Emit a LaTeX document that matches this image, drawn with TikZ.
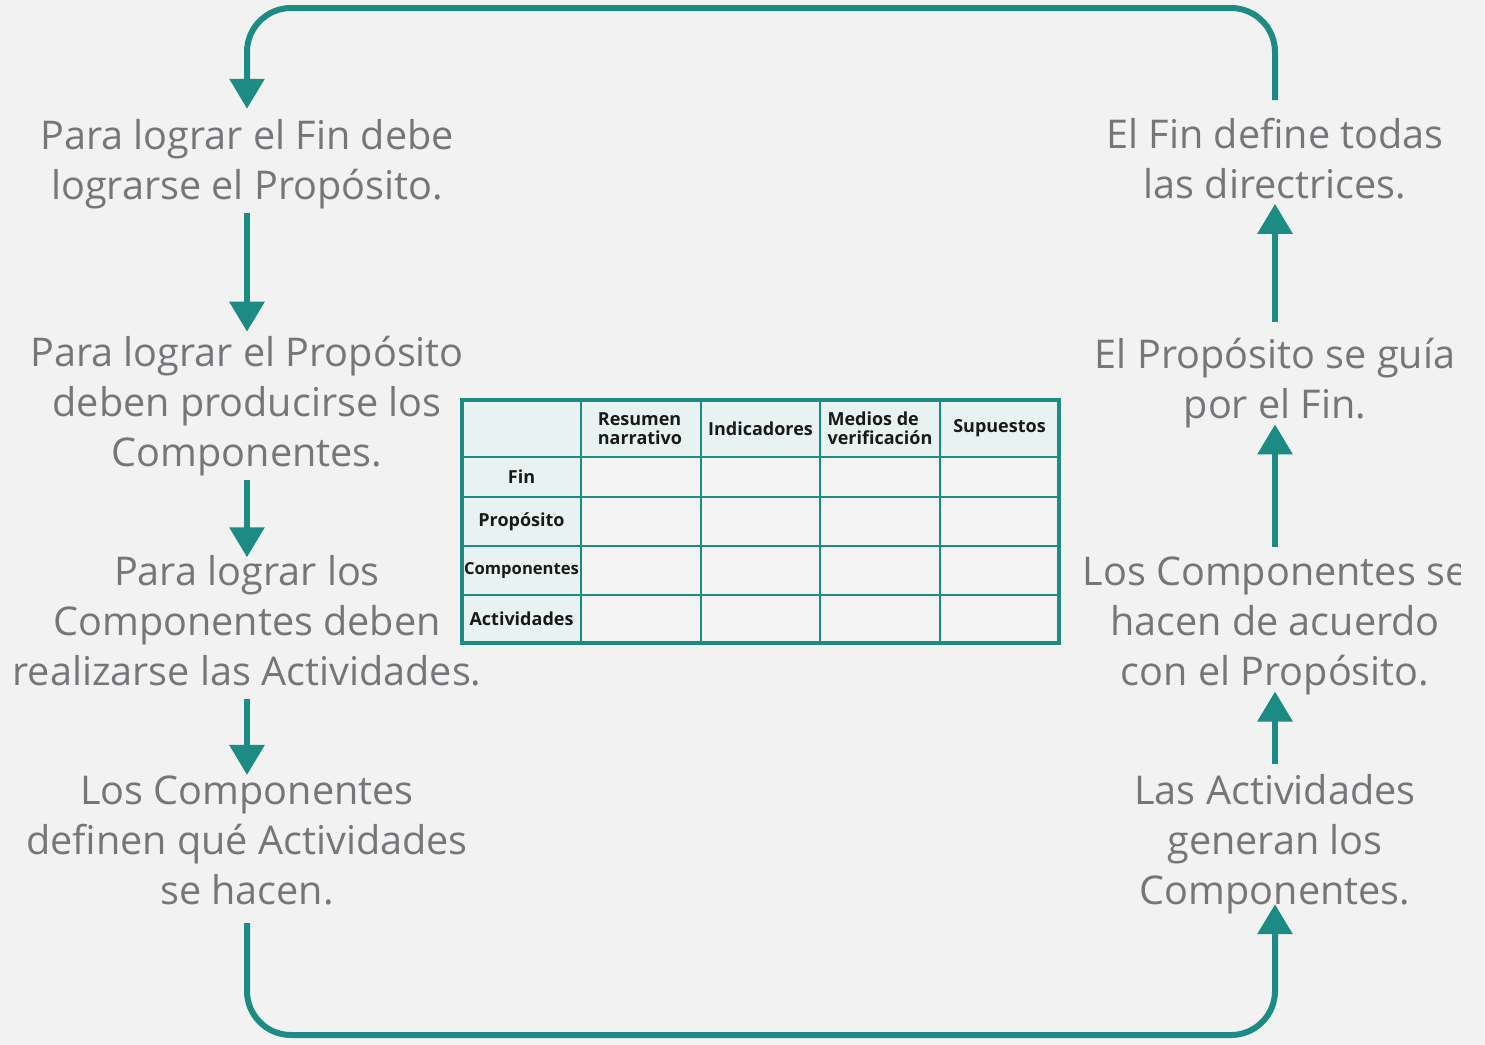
\documentclass[tikz,border=0pt]{standalone}
\usepackage{fontspec}
\setmainfont{Open Sans}
\usetikzlibrary{arrows.meta}
\definecolor{fondo}{RGB}{242,242,242}
\definecolor{verdeazul}{RGB}{27,139,132}
\definecolor{gristexto}{RGB}{118,118,122}
\definecolor{cabecera}{RGB}{232,243,241}
\definecolor{cuerpo}{RGB}{243,243,243}
\definecolor{negrotabla}{RGB}{25,25,25}
\tikzset{
  paso/.style={align=center, text=gristexto, font=\fontsize{19.8}{25}\selectfont, inner sep=2pt},
  flujo/.style={->, draw=verdeazul, line width=3pt},
  celda/.style={align=left, text=negrotabla, font=\fontsize{9}{9.5}\selectfont\bfseries, inner sep=0pt}
}
\begin{document}
\begin{tikzpicture}[x=0.5pt,y=-0.5pt,>={Triangle[width=17pt,length=15pt]}]
\fill[fondo] (0,0) rectangle (1485,1045);
\useasboundingbox (0,0) rectangle (1485,1045);
% columna izquierda
\node[paso] (fin) at (247,164) {Para lograr el Fin debe\\lograrse el Propósito.};
\node[paso] (proposito) at (247,406) {Para lograr el Propósito\\deben producirse los\\Componentes.};
\node[paso] (componentes) at (247,621) {Para lograr los\\Componentes deben\\realizarse las Actividades.};
\node[paso] (actividades) at (247,840) {Los Componentes\\definen qué Actividades\\se hacen.};
% columna derecha
\node[paso] (finB) at (1275,159) {El Fin define todas\\las directrices.};
\node[paso] (propositoB) at (1275,383) {El Propósito se guía\\por el Fin.};
\begin{scope}
\clip (0,0) rectangle (1460,1045);
\node[paso] (componentesB) at (1275,626) {Los Componentes se\\hacen de acuerdo\\con el Propósito.};
\end{scope}
\node[paso] (actividadesB) at (1275,844) {Las Actividades\\generan los\\Componentes.};
% flechas
\draw[flujo] (fin) -- (proposito);
\draw[flujo] (proposito) -- ([yshift=-3pt]componentes.north);
\draw[flujo] ([yshift=-4pt]componentes.south) -- ([yshift=-2pt]actividades.north);
\draw[flujo] ([yshift=3pt]actividadesB.north) -- ([yshift=4pt]componentesB.south);
\draw[flujo] ([yshift=3pt]componentesB.north) -- ([yshift=4pt]propositoB.south);
\draw[flujo] ([yshift=6pt]propositoB.north) -- (finB);
\coordinate (arriba) at (760,8);
\coordinate (abajo) at (760,1035);
\draw[flujo, rounded corners=22pt] ([yshift=7pt]finB.north) |- (arriba) -| ([yshift=3pt]fin.north);
\draw[flujo, rounded corners=22pt] ([yshift=-7pt]actividades.south) |- (abajo) -| ([yshift=7pt]actividadesB.south);
% matriz
\fill[cuerpo] (462,400) rectangle (1059,643);
\fill[cabecera] (462,400) rectangle (1059,457);
\fill[cabecera] (462,457) rectangle (581,643);
\draw[verdeazul, line width=1.3pt] (581,400) -- (581,643);
\draw[verdeazul, line width=1.3pt] (701,400) -- (701,643);
\draw[verdeazul, line width=1.3pt] (820,400) -- (820,643);
\draw[verdeazul, line width=1.3pt] (940,400) -- (940,643);
\draw[verdeazul, line width=1.3pt] (462,457) -- (1059,457);
\draw[verdeazul, line width=1.3pt] (462,497) -- (1059,497);
\draw[verdeazul, line width=1.3pt] (462,546) -- (1059,546);
\draw[verdeazul, line width=1.3pt] (462,595) -- (1059,595);
\draw[verdeazul, line width=2pt] (462,400) rectangle (1059,643);
\node[celda] (resumen) at (640,428.5) {Resumen\\narrativo};
\node[celda] (indicadores) at (760.5,428.5) {Indicadores};
\node[celda] (medios) at (880,428.5) {Medios de\\verificación};
\node[celda] (supuestos) at (999.5,428.5) {Supuestos};
\node[celda] (filafin) at (521.5,477) {Fin};
\node[celda] (filaproposito) at (521.5,521.5) {Propósito};
\node[celda, font=\fontsize{8.3}{9}\selectfont\bfseries] (filacomponentes) at (521.5,570.5) {Componentes};
\node[celda] (filaactividades) at (521.5,619) {Actividades};
\end{tikzpicture}
\end{document}
